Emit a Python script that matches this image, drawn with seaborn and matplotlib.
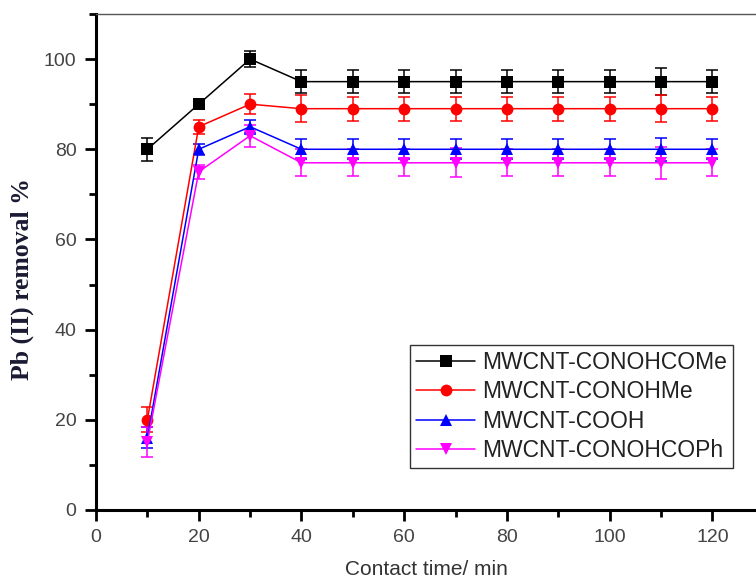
import matplotlib
matplotlib.use("Agg")
import matplotlib.pyplot as plt
import seaborn as sns
import numpy as np
import pandas as pd
from matplotlib.ticker import MultipleLocator

# Contact time (min)
time_min = [10, 20, 30, 40, 50, 60, 70, 80, 90, 100, 110, 120]

# Pb(II) removal (%) per adsorbent
conohcome = [80, 90, 100, 95, 95, 95, 95, 95, 95, 95, 95, 95]
conohme = [20, 85, 90, 89, 89, 89, 89, 89, 89, 89, 89, 89]
cooh = [16, 80, 85, 80, 80, 80, 80, 80, 80, 80, 80, 80]
conohcoph = [15, 75, 83, 77, 77, 77, 77, 77, 77, 77, 77, 77]

# Standard deviations
conohcome_err = [2.5, 1.0, 1.7, 2.5, 2.6, 2.6, 2.6, 2.5, 2.5, 2.5, 3.0, 2.5]
conohme_err = [2.8, 1.6, 2.2, 3.0, 2.7, 2.7, 2.7, 2.7, 2.7, 2.7, 3.0, 2.7]
cooh_err = [2.3, 1.2, 1.6, 2.2, 2.2, 2.2, 2.2, 2.2, 2.2, 2.2, 2.6, 2.2]
conohcoph_err = [3.3, 1.5, 2.4, 3.0, 3.0, 3.0, 3.2, 3.0, 3.0, 3.0, 3.5, 3.0]

names = ["MWCNT-CONOHCOMe", "MWCNT-CONOHMe", "MWCNT-COOH", "MWCNT-CONOHCOPh"]
series = [conohcome, conohme, cooh, conohcoph]
errors = [conohcome_err, conohme_err, cooh_err, conohcoph_err]
colors = ["#000000", "#ff0000", "#0000ff", "#ff00ff"]
markers = ["s", "o", "^", "v"]

df = pd.concat(
    [pd.DataFrame({"time": time_min, "removal": vals, "err": err, "sample": name})
     for name, vals, err in zip(names, series, errors)],
    ignore_index=True,
)

sns.set_theme(style="white")
plt.rcParams["font.family"] = ["Liberation Sans", "DejaVu Sans"]

fig = plt.figure(figsize=(7.56, 5.79), dpi=100)
ax = fig.add_axes([96 / 756, 69 / 579, 660 / 756, 496 / 579])

for name, color, mk in zip(names, colors, markers):
    sub = df[df["sample"] == name]
    ax.errorbar(sub["time"], sub["removal"], yerr=sub["err"], fmt="none",
                ecolor=color, elinewidth=1.1, capsize=4, capthick=1.1, zorder=2)

sns.lineplot(data=df, x="time", y="removal", hue="sample", style="sample",
             hue_order=names, style_order=names,
             palette=dict(zip(names, colors)),
             markers=dict(zip(names, markers)),
             dashes=False, markersize=8.5, markeredgewidth=0,
             linewidth=1.1, ax=ax, zorder=3)

ax.set_xlim(0, 128.5)
ax.set_ylim(0, 110)
ax.xaxis.set_major_locator(MultipleLocator(20))
ax.xaxis.set_minor_locator(MultipleLocator(10))
ax.yaxis.set_major_locator(MultipleLocator(20))
ax.yaxis.set_minor_locator(MultipleLocator(10))
ax.set_yticks([0, 20, 40, 60, 80, 100])

ax.tick_params(which="major", direction="out", length=8, width=2,
               labelsize=14, labelcolor="#444444", color="black",
               bottom=True, left=True, pad=6)
ax.tick_params(which="minor", direction="out", length=5, width=2,
               color="black", bottom=True, left=True)

for side in ["left", "bottom"]:
    ax.spines[side].set_linewidth(2.2)
    ax.spines[side].set_color("black")
ax.spines["right"].set_visible(False)
ax.spines["top"].set_linewidth(1.0)
ax.spines["top"].set_color("#555555")

ax.set_xlabel("Contact time/ min", fontsize=15, color="#333333", labelpad=10)
ax.set_ylabel("Pb (II) removal %", fontsize=18.5, fontweight="bold",
              family=["Liberation Serif", "DejaVu Serif"], color="#1a1a33")
ax.yaxis.set_label_coords(-0.094, 0.466)

handles, labels = ax.get_legend_handles_labels()
leg = ax.legend(handles, labels, loc="upper left",
                bbox_to_anchor=((410 - 96) / 660, (510 - 345) / 496),
                fontsize=16.5, frameon=True, fancybox=False, edgecolor="#333333",
                framealpha=1, handlelength=2.6, handletextpad=0.3,
                labelspacing=0.28, borderpad=0.25, borderaxespad=0,
                title=None)
leg.get_frame().set_linewidth(1.0)
for t in leg.get_texts():
    t.set_color("#222222")

fig.savefig("out.png", dpi=100)
